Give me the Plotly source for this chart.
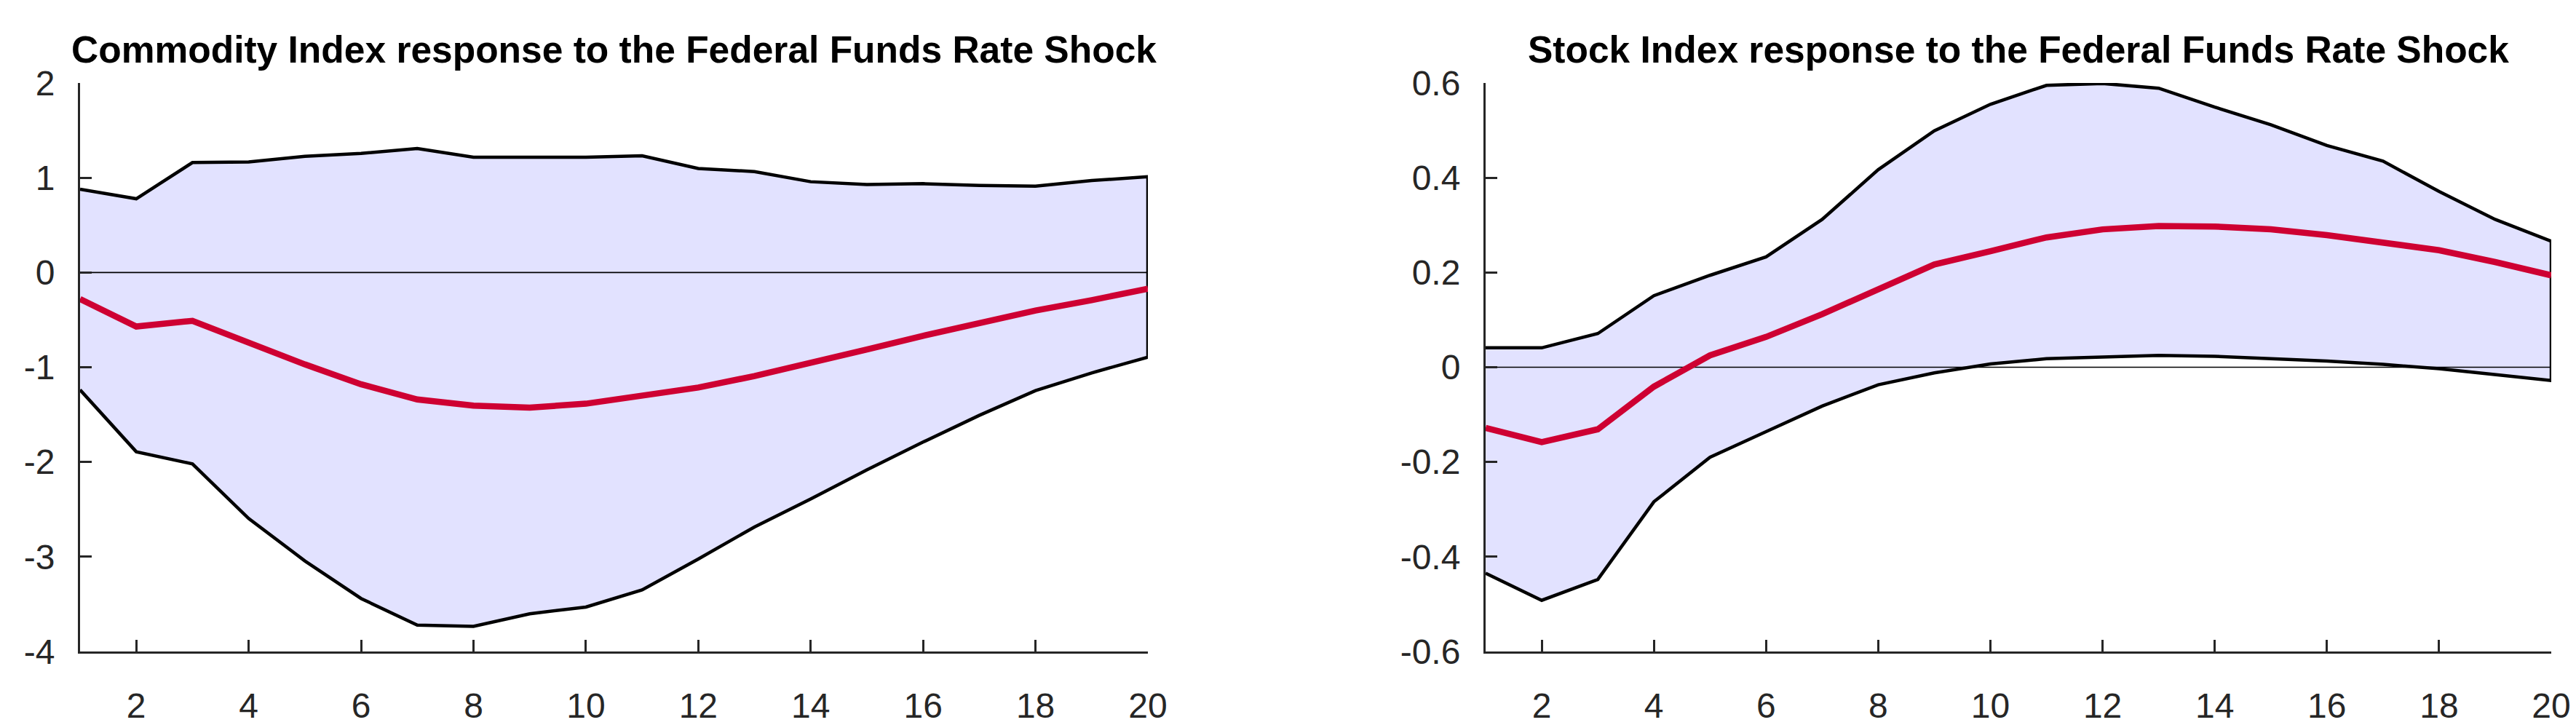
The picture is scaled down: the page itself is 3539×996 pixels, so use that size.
import plotly.graph_objects as go

# ---------------- data ----------------
horizon = list(range(1, 21))

commodity_mean = [-0.28, -0.57, -0.51, -0.74, -0.97, -1.18, -1.34, -1.405, -1.426, -1.385,
                  -1.30, -1.214, -1.093, -0.945, -0.812, -0.668, -0.530, -0.402, -0.292, -0.171]
commodity_upper = [0.878, 0.778, 1.160, 1.167, 1.226, 1.257, 1.308, 1.216, 1.216, 1.216,
                   1.231, 1.098, 1.065, 0.958, 0.929, 0.937, 0.919, 0.911, 0.970, 1.011]
commodity_lower = [-1.239, -1.892, -2.020, -2.596, -3.044, -3.441, -3.722, -3.735, -3.602, -3.531,
                   -3.351, -3.024, -2.686, -2.391, -2.084, -1.790, -1.508, -1.247, -1.060, -0.893]

stock_mean = [-0.128, -0.158, -0.131, -0.041, 0.025, 0.064, 0.112, 0.164, 0.217, 0.245,
              0.274, 0.291, 0.298, 0.297, 0.291, 0.279, 0.263, 0.247, 0.222, 0.194]
stock_upper = [0.041, 0.041, 0.071, 0.151, 0.194, 0.233, 0.312, 0.417, 0.499, 0.555,
               0.595, 0.599, 0.589, 0.549, 0.512, 0.468, 0.435, 0.371, 0.312, 0.266]
stock_lower = [-0.435, -0.492, -0.448, -0.284, -0.190, -0.136, -0.082, -0.037, -0.012, 0.007,
               0.018, 0.022, 0.025, 0.023, 0.018, 0.013, 0.006, -0.003, -0.016, -0.028]

titles = ["Commodity Index response to the Federal Funds Rate Shock",
          "Stock Index response to the Federal Funds Rate Shock"]

x_tickvals = [2, 4, 6, 8, 10, 12, 14, 16, 18, 20]
x_ticktext = ["2", "4", "6", "8", "10", "12", "14", "16", "18", "20"]
y1_tickvals = [-4, -3, -2, -1, 0, 1, 2]
y1_ticktext = ["-4", "-3", "-2", "-1", "0", "1", "2"]
y2_tickvals = [-0.6, -0.4, -0.2, 0, 0.2, 0.4, 0.6]
y2_ticktext = ["-0.6", "-0.4", "-0.2", "0", "0.2", "0.4", "0.6"]
zero_level = [0, 0]

# ---------------- style ----------------
W, H = 3539, 996
BAND = "rgb(226,226,255)"
RED = "rgb(206,0,50)"
AX = "#262626"
FONT = "Liberation Sans, Arial, sans-serif"

fig = go.Figure()

panels = [
    (commodity_mean, commodity_upper, commodity_lower, "x", "y"),
    (stock_mean, stock_upper, stock_lower, "x2", "y2"),
]
for mean, up, lo, xa, ya in panels:
    fig.add_trace(go.Scatter(
        x=horizon + horizon[::-1], y=up + lo[::-1],
        fill="toself", fillcolor=BAND, mode="lines",
        line=dict(color="black", width=4.5), xaxis=xa, yaxis=ya,
        showlegend=False, hoverinfo="skip"))
    fig.add_trace(go.Scatter(
        x=[horizon[0], horizon[-1]], y=zero_level, mode="lines",
        line=dict(color="black", width=1.6), xaxis=xa, yaxis=ya,
        showlegend=False, hoverinfo="skip"))
    fig.add_trace(go.Scatter(
        x=horizon, y=mean, mode="lines",
        line=dict(color=RED, width=8.5), xaxis=xa, yaxis=ya,
        showlegend=False))

dom_y = [1 - 887 / H, 1 - 106 / H]
dom_x1 = [102 / W, 1569 / W]
dom_x2 = [2033 / W, 3497 / W]

common_x = dict(range=[1, 20], tickvals=x_tickvals, ticktext=x_ticktext,
                ticks="inside", ticklen=16, tickwidth=3, tickcolor=AX,
                showline=True, linecolor=AX, linewidth=3, showgrid=False,
                zeroline=False, tickfont=dict(family=FONT, size=48, color=AX),
                ticklabelstandoff=30, automargin=False)
common_y = dict(ticks="inside", ticklen=16, tickwidth=3, tickcolor=AX,
                showline=True, linecolor=AX, linewidth=3, showgrid=False,
                zeroline=False, tickfont=dict(family=FONT, size=48, color=AX),
                ticklabelstandoff=22, automargin=False)

fig.update_layout(
    width=W, height=H,
    margin=dict(l=0, r=0, t=0, b=0),
    paper_bgcolor="white", plot_bgcolor="white",
    xaxis=dict(domain=dom_x1, anchor="y", **common_x),
    yaxis=dict(domain=dom_y, anchor="x", range=[-4, 2], tickvals=y1_tickvals,
               ticktext=y1_ticktext, **common_y),
    xaxis2=dict(domain=dom_x2, anchor="y2", **common_x),
    yaxis2=dict(domain=dom_y, anchor="x2", range=[-0.6, 0.6], tickvals=y2_tickvals,
                ticktext=y2_ticktext, **common_y),
)

for i, t in enumerate(titles):
    xr = "x domain" if i == 0 else "x2 domain"
    fig.add_annotation(text=t, xref=xr, x=0.5, yref="paper", y=1 - 60 / H,
                       xanchor="center", yanchor="middle", showarrow=False,
                       font=dict(family=FONT, size=51.5, color="black", weight="bold"))

fig.write_html("out.html")
